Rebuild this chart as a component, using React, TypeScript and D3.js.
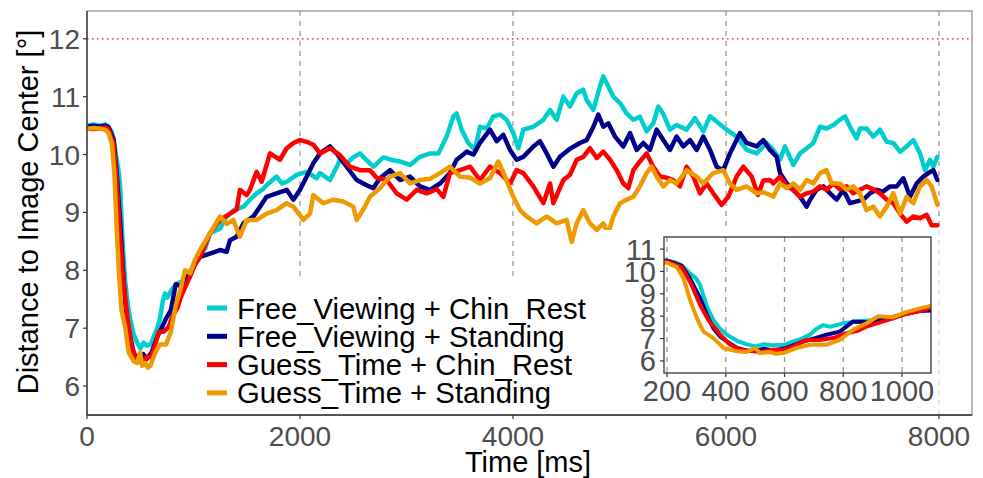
import React from "react";
import * as d3 from "d3";

type P = [number, number];

const X_TICKS = [0, 2000, 4000, 6000, 8000];
const Y_TICKS = [6, 7, 8, 9, 10, 11, 12];
const INSET_X_TICKS = [200, 400, 600, 800, 1000];
const INSET_Y_TICKS = [6, 7, 8, 9, 10, 11];
const THRESHOLD = 12;

const SERIES_NAMES = [
  "Free_Viewing + Chin_Rest",
  "Free_Viewing + Standing",
  "Guess_Time + Chin_Rest",
  "Guess_Time + Standing",
];
const SERIES_COLORS = ["#00CDCD", "#00008B", "#FF0000", "#EE9A00"];

const freeChin: P[] = [
  [0,10.5],[60,10.52],[120,10.5],[170,10.52],[200,10.48],[230,10.4],[250,10.26],[280,9.9],[300,9.67],[313,9.38],[336,8.42],[358,7.83],[380,7.45],[404,7.17],[438,6.9],[470,6.75],[500,6.65],[530,6.75],[560,6.7],[600,6.72],[630,6.87],[660,7.0],[686,7.17],[710,7.45],[732,7.6],[754,7.53],[800,7.68],[856,7.78],[920,7.83],[967,7.89],[1000,8.05],[1061,8.25],[1110,8.38],[1155,8.64],[1249,8.72],[1300,8.9],[1380,9.04],[1470,9.1],[1530,9.22],[1593,9.33],[1650,9.4],[1686,9.47],[1780,9.62],[1830,9.5],[1875,9.53],[1968,9.65],[2063,9.7],[2157,9.59],[2188,9.68],[2282,9.56],[2375,9.9],[2440,9.85],[2500,9.95],[2563,10.02],[2627,9.9],[2690,9.79],[2783,9.95],[2877,9.9],[2939,9.88],[3033,9.82],[3127,9.96],[3221,10.02],[3300,10.02],[3377,10.31],[3440,10.66],[3470,10.71],[3518,10.43],[3580,10.2],[3643,10.08],[3690,10.48],[3753,10.45],[3815,10.66],[3878,10.69],[3940,10.6],[4003,10.37],[4050,10.11],[4097,10.43],[4191,10.48],[4285,10.6],[4348,10.77],[4410,10.6],[4473,11.0],[4535,10.83],[4598,11.06],[4660,11.12],[4692,10.94],[4755,10.77],[4817,11.18],[4848,11.35],[4895,11.18],[4942,11.0],[5005,10.89],[5067,10.71],[5130,10.6],[5192,10.65],[5255,10.4],[5317,10.54],[5364,10.83],[5411,10.7],[5474,10.43],[5536,10.51],[5630,10.43],[5709,10.63],[5787,10.4],[5850,10.66],[5912,10.57],[6006,10.43],[6100,10.31],[6194,10.08],[6288,10.02],[6382,10.2],[6444,10.08],[6507,9.91],[6554,10.14],[6632,9.82],[6695,10.02],[6758,10.11],[6820,10.2],[6883,10.48],[6945,10.45],[7008,10.51],[7070,10.6],[7117,10.66],[7164,10.48],[7227,10.28],[7258,10.45],[7320,10.45],[7383,10.31],[7446,10.43],[7509,10.22],[7571,10.2],[7634,10.05],[7696,10.14],[7759,10.25],[7822,10.02],[7869,9.73],[7916,9.91],[7947,9.79],[7985,9.96],
];

const freeStand: P[] = [
  [0,10.48],[60,10.5],[120,10.48],[170,10.5],[200,10.48],[250,10.26],[279,9.67],[313,8.79],[336,8.05],[358,7.46],[380,7.1],[404,6.87],[438,6.58],[470,6.47],[500,6.45],[530,6.55],[560,6.47],[607,6.58],[640,6.75],[664,6.87],[700,7.0],[743,7.17],[788,7.31],[833,7.76],[879,7.73],[920,7.83],[969,7.97],[1008,8.1],[1061,8.23],[1155,8.29],[1249,8.35],[1311,8.32],[1343,8.52],[1405,8.58],[1468,8.81],[1562,8.93],[1624,9.1],[1686,9.27],[1780,9.33],[1875,9.39],[1938,9.22],[2000,9.39],[2063,9.62],[2125,9.85],[2188,10.02],[2282,10.14],[2344,10.02],[2438,9.79],[2532,9.56],[2626,9.47],[2688,9.42],[2751,9.59],[2845,9.73],[2939,9.56],[3033,9.62],[3127,9.45],[3221,9.39],[3315,9.5],[3408,9.68],[3471,9.91],[3565,10.05],[3628,10.0],[3690,10.2],[3784,10.43],[3847,10.23],[3909,10.34],[3972,10.08],[4034,9.91],[4097,9.96],[4191,10.14],[4254,10.23],[4316,10.02],[4379,9.79],[4441,9.96],[4535,10.1],[4629,10.2],[4692,10.25],[4755,10.48],[4801,10.69],[4848,10.48],[4895,10.54],[4958,10.31],[5036,10.14],[5099,10.37],[5161,10.08],[5224,10.2],[5286,10.08],[5349,10.43],[5411,10.25],[5474,10.08],[5536,10.31],[5599,10.14],[5662,10.25],[5725,10.08],[5787,10.31],[5850,10.08],[5912,9.79],[5975,9.73],[6037,10.02],[6131,10.37],[6194,10.2],[6288,10.14],[6350,10.25],[6413,10.08],[6476,9.96],[6507,9.68],[6570,9.5],[6632,9.39],[6695,9.27],[6758,9.1],[6789,9.22],[6851,9.39],[6914,9.45],[6977,9.33],[7039,9.22],[7102,9.39],[7164,9.16],[7227,9.19],[7289,9.22],[7352,9.33],[7415,9.39],[7477,9.36],[7540,9.45],[7603,9.45],[7665,9.59],[7728,9.27],[7790,9.5],[7853,9.62],[7900,9.68],[7947,9.73],[7985,9.56],
];

const guessChin: P[] = [
  [0,10.45],[60,10.44],[120,10.45],[170,10.47],[200,10.44],[250,10.19],[279,9.53],[313,8.5],[340,7.85],[358,7.55],[381,7.17],[415,6.72],[449,6.5],[480,6.45],[520,6.4],[560,6.5],[600,6.5],[630,6.65],[675,6.94],[720,6.94],[766,7.02],[811,7.24],[850,7.35],[879,7.53],[920,7.7],[969,7.9],[1014,8.1],[1061,8.23],[1155,8.64],[1249,8.87],[1343,8.98],[1405,9.05],[1436,9.39],[1500,9.3],[1530,9.39],[1593,9.7],[1640,9.53],[1718,10.02],[1812,9.91],[1875,10.11],[1938,10.2],[2000,10.25],[2063,10.22],[2125,10.17],[2188,10.02],[2282,10.11],[2375,9.99],[2469,9.79],[2563,9.73],[2657,9.73],[2720,9.6],[2814,9.56],[2908,9.33],[3002,9.22],[3096,9.39],[3190,9.33],[3284,9.4],[3346,9.27],[3408,9.68],[3502,9.73],[3596,9.79],[3690,9.56],[3784,9.79],[3878,9.68],[3972,9.5],[4034,9.73],[4097,9.68],[4191,9.45],[4285,9.16],[4348,9.5],[4379,9.16],[4473,9.56],[4535,9.65],[4598,9.91],[4660,9.96],[4723,10.11],[4786,9.94],[4848,10.05],[4911,9.91],[4974,9.73],[5036,9.5],[5083,9.42],[5130,9.73],[5192,9.88],[5255,10.02],[5317,9.79],[5380,9.62],[5443,9.6],[5505,9.56],[5568,9.45],[5630,9.79],[5693,9.62],[5756,9.33],[5818,9.5],[5881,9.33],[5959,9.13],[6022,9.27],[6100,9.62],[6162,9.79],[6241,9.62],[6300,9.3],[6350,9.55],[6413,9.56],[6444,9.5],[6507,9.62],[6570,9.45],[6632,9.39],[6695,9.27],[6758,9.33],[6820,9.36],[6883,9.45],[6945,9.39],[7008,9.5],[7070,9.4],[7133,9.45],[7195,9.33],[7258,9.39],[7320,9.45],[7383,9.4],[7446,9.33],[7509,9.22],[7571,9.16],[7634,8.98],[7696,8.84],[7759,8.93],[7822,8.9],[7884,8.96],[7931,8.78],[7985,8.78],
];

const guessStand: P[] = [
  [0,10.45],[60,10.46],[120,10.45],[170,10.43],[200,10.38],[234,10.19],[257,9.67],[279,8.71],[302,7.9],[324,7.31],[358,7.02],[392,6.58],[438,6.43],[470,6.4],[500,6.58],[517,6.35],[550,6.4],[570,6.32],[596,6.35],[641,6.58],[686,6.72],[743,6.72],[788,6.94],[833,7.39],[879,7.68],[920,8.0],[969,7.95],[1014,8.18],[1061,8.35],[1155,8.64],[1249,8.93],[1311,8.8],[1374,8.87],[1436,8.58],[1499,8.87],[1593,8.87],[1686,8.98],[1780,9.04],[1875,9.16],[1938,9.1],[2031,8.87],[2094,8.98],[2125,9.3],[2219,9.16],[2313,9.22],[2407,9.19],[2500,9.1],[2532,8.87],[2594,9.05],[2657,9.27],[2751,9.42],[2845,9.62],[2939,9.68],[3033,9.5],[3127,9.56],[3221,9.58],[3315,9.68],[3408,9.79],[3502,9.62],[3596,9.6],[3690,9.5],[3784,9.59],[3862,9.88],[3925,9.62],[4003,9.27],[4066,9.04],[4128,8.93],[4222,8.81],[4316,8.93],[4410,8.81],[4504,8.87],[4551,8.49],[4598,8.81],[4660,9.04],[4723,8.81],[4786,8.7],[4848,8.81],[4895,8.64],[4942,8.93],[5005,9.16],[5067,9.22],[5130,9.27],[5192,9.45],[5255,9.68],[5302,9.79],[5349,9.62],[5411,9.45],[5474,9.56],[5536,9.5],[5630,9.73],[5725,9.62],[5787,9.5],[5881,9.68],[5975,9.73],[6037,9.5],[6100,9.39],[6194,9.45],[6288,9.33],[6350,9.35],[6413,9.3],[6444,9.27],[6507,9.5],[6570,9.42],[6632,9.5],[6695,9.39],[6758,9.56],[6820,9.5],[6883,9.68],[6945,9.73],[6992,9.5],[7070,9.5],[7133,9.39],[7195,9.45],[7258,9.33],[7320,9.04],[7383,9.1],[7446,8.93],[7509,9.1],[7571,9.33],[7634,8.98],[7696,9.27],[7759,9.16],[7822,9.45],[7884,9.56],[7931,9.45],[7985,9.13],
];

const SERIES = [freeChin, freeStand, guessChin, guessStand];

const FONT = "'Liberation Sans', Arial, Helvetica, sans-serif";
const TICK_COLOR = "#4D4D4D";

export default function App() {
  // main panel
  const L = 87, R = 972, T = 11, B = 415;
  const x = d3.scaleLinear().domain([0, 8310]).range([L, R]);
  const y = d3.scaleLinear().domain([5.5, 12.48]).range([B, T]);
  const line = d3.line<P>().x((d) => x(d[0])).y((d) => y(d[1]));

  // inset panel
  const iL = 664, iR = 931, iT = 237, iB = 373;
  const ix = d3.scaleLinear().domain([189.8, 1098.7]).range([iL, iR]);
  const iy = d3.scaleLinear().domain([5.46, 11.54]).range([iB, iT]);
  const iline = d3.line<P>().x((d) => ix(d[0])).y((d) => iy(d[1]));

  const legendTop = 277;
  const insetBgTop = 230;

  return (
    <svg width={983} height={478} style={{ position: "absolute", left: 0, top: 0, background: "#fff" }} fontFamily={FONT}>
      <defs>
        <clipPath id="mainClip"><rect x={L} y={T} width={R - L} height={B - T} /></clipPath>
        <clipPath id="insetClip"><rect x={iL} y={iT} width={iR - iL} height={iB - iT} /></clipPath>
      </defs>
      <rect x={0} y={0} width={983} height={478} fill="#fff" />

      {/* vertical dashed lines */}
      {X_TICKS.filter((t) => t > 0).map((t) => (
        <line key={"v" + t} x1={x(t)} x2={x(t)} y1={T} y2={t <= 4000 ? legendTop : insetBgTop}
          stroke="#9a9a9a" strokeWidth={1.3} strokeDasharray="5,5" />
      ))}
      <line x1={x(8000)} x2={x(8000)} y1={insetBgTop} y2={B} stroke="#d8d8d8" strokeWidth={1.2} strokeDasharray="5,5" />

      {/* threshold */}
      <line x1={L} x2={R} y1={y(THRESHOLD)} y2={y(THRESHOLD)} stroke="#FF0000" strokeWidth={1.3} strokeDasharray="1.5,3.5" />

      {/* data */}
      <g clipPath="url(#mainClip)">
        {SERIES.map((s, i) => (
          <path key={"m" + i} d={line(s) || ""} fill="none" stroke={SERIES_COLORS[i]} strokeWidth={4.5}
            strokeLinejoin="round" strokeLinecap="round" />
        ))}
      </g>

      {/* panel border & axes */}
      <rect x={L} y={T} width={R - L} height={B - T} fill="none" stroke="#8a8a8a" strokeWidth={1.2} />
      <line x1={L} x2={L} y1={T} y2={B} stroke="#333" strokeWidth={1.3} />
      <line x1={L} x2={R} y1={B} y2={B} stroke="#333" strokeWidth={1.3} />

      {Y_TICKS.map((v) => (
        <g key={"yt" + v}>
          <line x1={L - 4} x2={L} y1={y(v)} y2={y(v)} stroke="#333" strokeWidth={1.2} />
          <text x={L - 7} y={y(v) + 10} textAnchor="end" fontSize={28} fill={TICK_COLOR}>{v}</text>
        </g>
      ))}
      {X_TICKS.map((t) => (
        <g key={"xt" + t}>
          <line x1={x(t)} x2={x(t)} y1={B} y2={B + 4} stroke="#333" strokeWidth={1.2} />
          <text x={x(t)} y={446} textAnchor="middle" fontSize={28} fill={TICK_COLOR}>{t}</text>
        </g>
      ))}

      <text x={528} y={472} textAnchor="middle" fontSize={29} fill="#000">Time [ms]</text>
      <text transform={`translate(38,212) rotate(-90)`} textAnchor="middle" fontSize={29} fill="#000">
        Distance to Image Center [°]
      </text>

      {/* legend */}
      <rect x={200} y={legendTop} width={395} height={B - legendTop - 2} fill="#fff" />
      {SERIES_NAMES.map((name, i) => {
        const cy = 308 + i * 28.3;
        return (
          <g key={"lg" + i}>
            <line x1={207} x2={227} y1={cy} y2={cy} stroke={SERIES_COLORS[i]} strokeWidth={5} />
            <text x={237} y={cy + 10.5} fontSize={29.3} fill="#000">{name}</text>
          </g>
        );
      })}

      {/* inset */}
      <rect x={604} y={insetBgTop} width={iR + 3 - 604} height={410 - insetBgTop} fill="#fff" />
      {INSET_X_TICKS.map((t) => (
        <line key={"iv" + t} x1={ix(t)} x2={ix(t)} y1={iT} y2={iB} stroke="#9a9a9a" strokeWidth={1.3} strokeDasharray="5,5" />
      ))}
      <g clipPath="url(#insetClip)">
        {SERIES.map((s, i) => (
          <path key={"i" + i} d={iline(s) || ""} fill="none" stroke={SERIES_COLORS[i]} strokeWidth={4}
            strokeLinejoin="round" strokeLinecap="round" />
        ))}
      </g>
      <rect x={iL} y={iT} width={iR - iL} height={iB - iT} fill="none" stroke="#333" strokeWidth={1.3} />
      {INSET_Y_TICKS.map((v) => (
        <g key={"iyt" + v}>
          <line x1={iL - 4} x2={iL} y1={iy(v)} y2={iy(v)} stroke="#333" strokeWidth={1.2} />
          <text x={iL - 8} y={iy(v) + 10.5} textAnchor="end" fontSize={29} fill={TICK_COLOR}>{v}</text>
        </g>
      ))}
      {INSET_X_TICKS.map((t) => (
        <g key={"ixt" + t}>
          <line x1={ix(t)} x2={ix(t)} y1={iB} y2={iB + 4} stroke="#333" strokeWidth={1.2} />
          <text x={ix(t)} y={401} textAnchor="middle" fontSize={29} fill={TICK_COLOR}>{t}</text>
        </g>
      ))}
    </svg>
  );
}
